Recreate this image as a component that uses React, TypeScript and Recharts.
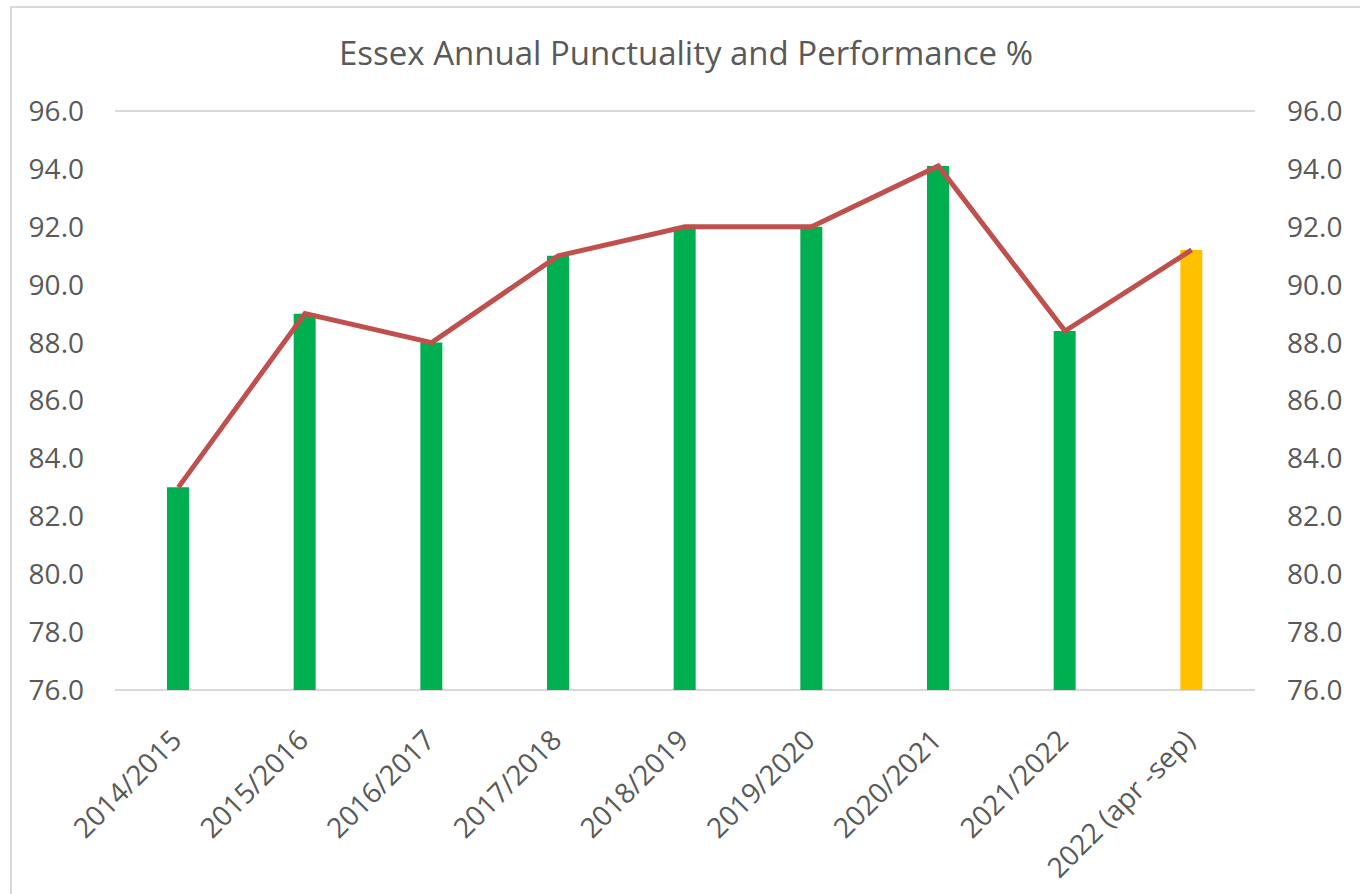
import React from 'react';
import {
  ComposedChart, Bar, Line, XAxis, YAxis, CartesianGrid, Cell
} from 'recharts';

const years = [
  '2014/2015', '2015/2016', '2016/2017', '2017/2018', '2018/2019',
  '2019/2020', '2020/2021', '2021/2022', '2022 (apr -sep)'
];
const performance = [83.0, 89.0, 88.0, 91.0, 92.0, 92.0, 94.1, 88.4, 91.2];
const yTicks = [76, 78, 80, 82, 84, 86, 88, 90, 92, 94, 96];

const GREEN = '#00B050';
const AMBER = '#FFC000';
const LINE_RED = '#C0504D';
const TEXT = '#595959';
const FONT = '"Open Sans", "Liberation Sans", sans-serif';

const data = years.map((year, i) => ({ year, value: performance[i] }));

const XTick = (props: any) => {
  const { x, y, payload } = props;
  return (
    <g transform={`translate(${x + 5},${y + 44})`}>
      <text
        x={0}
        y={0}
        textAnchor="end"
        transform="rotate(-45)"
        fill={TEXT}
        fontSize={28}
        fontFamily={FONT}
      >
        {payload.value}
      </text>
    </g>
  );
};

const App: React.FC = () => {
  return (
    <div style={{ position: 'absolute', left: 0, top: 0, width: 1360, height: 894, background: '#fff', overflow: 'hidden' }}>
      <div style={{
        position: 'absolute', left: 10, top: 6, width: 1370, height: 900,
        border: '2px solid #D9D9D9', boxSizing: 'border-box'
      }} />
      <div style={{
        position: 'absolute', left: 0, top: 30, width: 1372, textAlign: 'center',
        fontFamily: FONT, fontSize: 33, color: TEXT, lineHeight: 'normal', whiteSpace: 'nowrap'
      }}>
        Essex Annual Punctuality and Performance %
      </div>
      <div style={{ position: 'absolute', left: 0, top: 0 }}>
        <ComposedChart
          width={1360}
          height={894}
          data={data}
          margin={{ top: 111, right: 0, bottom: 0, left: 0 }}
        >
          <CartesianGrid vertical={false} stroke="#D9D9D9" strokeWidth={2} />
          <XAxis
            dataKey="year"
            axisLine={false}
            tickLine={false}
            tick={<XTick />}
            interval={0}
            height={204}
          />
          <YAxis
            yAxisId="left"
            domain={[76, 96]}
            ticks={yTicks}
            width={115}
            axisLine={false}
            tickLine={false}
            tickSize={0}
            tickMargin={31}
            tickFormatter={(v: number) => v.toFixed(1)}
            tick={{ fill: TEXT, fontSize: 28, fontFamily: FONT }}
            allowDataOverflow
          />
          <YAxis
            yAxisId="right"
            orientation="right"
            domain={[76, 96]}
            ticks={yTicks}
            width={105}
            axisLine={false}
            tickLine={false}
            tickSize={0}
            tickMargin={32}
            tickFormatter={(v: number) => v.toFixed(1)}
            tick={{ fill: TEXT, fontSize: 28, fontFamily: FONT, textAnchor: 'start' }}
            allowDataOverflow
          />
          <Bar yAxisId="left" dataKey="value" barSize={22} isAnimationActive={false}>
            {data.map((d, i) => (
              <Cell key={d.year} fill={i === data.length - 1 ? AMBER : GREEN} />
            ))}
          </Bar>
          <Line
            yAxisId="left"
            dataKey="value"
            stroke={LINE_RED}
            strokeWidth={5}
            dot={false}
            type="linear"
            isAnimationActive={false}
          />
        </ComposedChart>
      </div>
    </div>
  );
};

export default App;
